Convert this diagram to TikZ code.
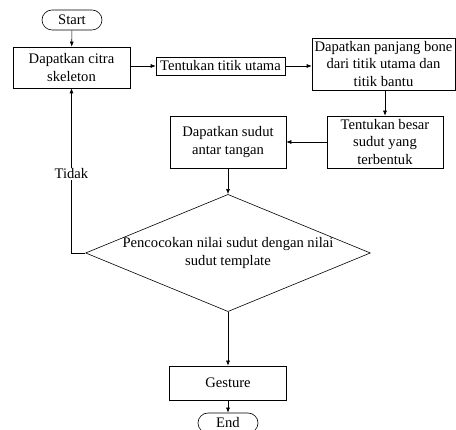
\documentclass[tikz,border=0pt]{standalone}
\usepackage{fontspec}
\setmainfont{Liberation Serif}
\usetikzlibrary{arrows.meta,shapes.geometric}

\begin{document}
\begin{tikzpicture}[x=1pt, y=1pt, >={Latex[length=5pt,width=4pt]}, line width=0.6pt,
    every node/.style={font=\fontsize{14.6}{17.2}\selectfont},
    proses/.style={rectangle, draw, align=center, inner sep=1pt},
    ujung/.style={rectangle, draw, rounded corners=10pt, minimum width=60pt, minimum height=20pt, inner sep=0pt},
    cek/.style={diamond, draw, aspect=2.43, inner sep=0pt, align=center}]
        \useasboundingbox (0,0) rectangle (456,430);

        \node[ujung] (n1) at (72,410) {Start};
        \node[proses, minimum width=117pt, minimum height=41pt] (n2) at (71.5,362.5) {Dapatkan citra\\skeleton};
        \node[proses, minimum width=129pt, minimum height=18pt] (n3) at (220.5,364) {Tentukan titik utama};
        \node[proses, minimum width=143pt, minimum height=52pt] (n4) at (383.5,366) {Dapatkan panjang bone\\dari titik utama dan\\titik bantu};
        \node[proses, minimum width=116pt, minimum height=52pt] (n5) at (385,288) {Tentukan besar\\sudut yang\\terbentuk};
        \node[proses, minimum width=116pt, minimum height=52pt] (n6) at (228,288) {Dapatkan sudut\\antar tangan};
        \node[cek] (n7) at (228,177) {Pencocokan nilai sudut dengan nilai\\sudut template};
        \node[proses, minimum width=117pt, minimum height=34pt] (n8) at (228,47) {Gesture};
        \node[ujung] (n9) at (228,7) {End};

        \draw[->] (n1) -- (n2);
        \draw[->] (n2.east |- n3.west) -- (n3.west);
        \draw[->] (n3.east) -- (n3.east -| n4.west);
        \draw[->] (n5.north |- n4.south) -- (n5.north);
        \draw[->] (n5.west) -- (n6.east);
        \draw[->] (n6) -- (n7);
        \draw[->] (n7.west) -| node[pos=0.74, fill=white, inner sep=1pt] {Tidak} (n2.south);
        \draw[->] (n7) -- (n8);
        \draw[->] (n8) -- (n9);
        \end{tikzpicture}
\end{document}
